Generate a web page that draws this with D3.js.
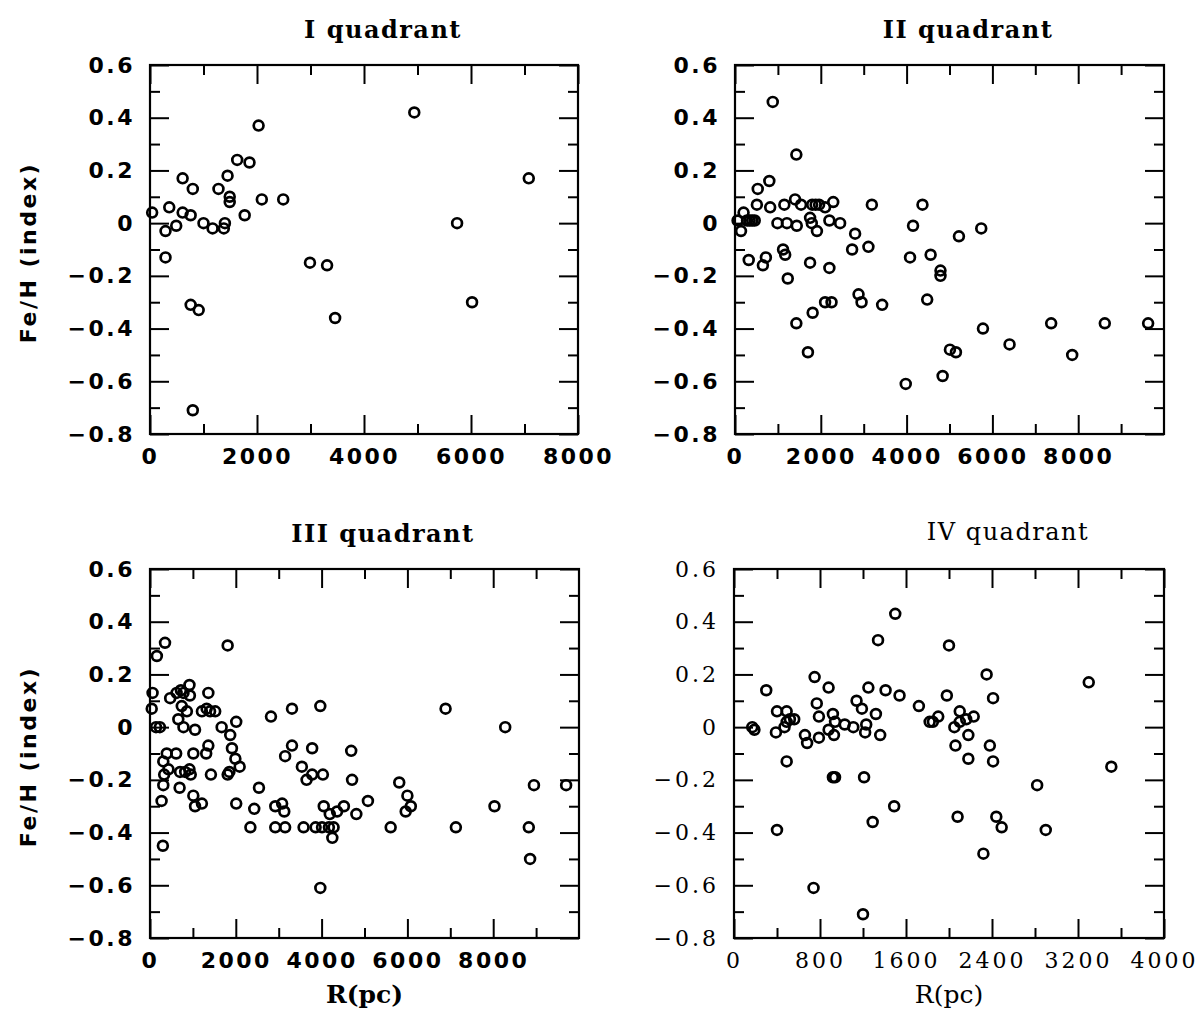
<!DOCTYPE html>
<html>
<head>
<meta charset="utf-8">
<script src="https://cdn.jsdelivr.net/npm/d3@7"></script>
<style>
    body { margin: 0; background: #fff; }
    svg { display: block; }
</style>
</head>
<body>
<div id="chart"></div>
<script>
// Fe/H against galactocentric distance, one panel per quadrant

// I quadrant
const q1R = [40, 290, 290, 360, 490, 610, 610, 760, 800, 760, 910, 800, 1000, 1170, 1280, 1400, 1380,
    1450, 1490, 1490, 1630, 1770, 1860, 2030, 2090, 2490, 2990, 3310, 3460, 4940, 5740, 6020, 7080];
const q1Fe = [0.04, -0.03, -0.13, 0.06, -0.01, 0.17, 0.04, 0.03, 0.13, -0.31, -0.33, -0.71, 0.00, -0.02, 0.13, 0.00, -0.02,
    0.18, 0.10, 0.08, 0.24, 0.03, 0.23, 0.37, 0.09, 0.09, -0.15, -0.16, -0.36, 0.42, 0.00, -0.30, 0.17];

// II quadrant
const q2R = [880, 1430, 530, 800, 200, 60, 140, 280, 340, 400, 460, 510, 820, 1150, 1400, 1540, 1800, 1880, 1960, 2100,
    2290, 990, 1210, 1440, 1750, 1790, 1910, 2200, 2450, 2800, 3190, 4370, 4150, 5220, 5740, 320, 650, 720, 1120, 1170,
    1230, 1750, 2200, 2730, 3110, 4080, 4560, 4790, 4790, 1430, 1700, 1810, 2100, 2250, 2880, 2950, 3430, 4480, 3980, 4840,
    5010, 5150, 5780, 6400, 7370, 8620, 7860, 9630];
const q2Fe = [0.46, 0.26, 0.13, 0.16, 0.04, 0.01, -0.03, 0.01, 0.01, 0.01, 0.01, 0.07, 0.06, 0.07, 0.09, 0.07, 0.07, 0.07, 0.07, 0.06,
    0.08, 0.00, 0.00, -0.01, 0.02, 0.00, -0.03, 0.01, 0.00, -0.04, 0.07, 0.07, -0.01, -0.05, -0.02, -0.14, -0.16, -0.13, -0.10, -0.12,
    -0.21, -0.15, -0.17, -0.10, -0.09, -0.13, -0.12, -0.18, -0.20, -0.38, -0.49, -0.34, -0.30, -0.30, -0.27, -0.30, -0.31, -0.29, -0.61, -0.58,
    -0.48, -0.49, -0.40, -0.46, -0.38, -0.38, -0.50, -0.38];

// III quadrant
const q3R = [350, 160, 1810, 60, 40, 140, 230, 470, 620, 720, 780, 920, 930, 740, 860, 660, 780, 1050,
    1210, 1320, 1400, 1520, 1360, 1670, 2010, 1870, 1910, 1990, 2090, 1850, 1810, 390, 610,
    310, 430, 330, 310, 700, 820, 920, 950, 1010, 1310, 1360, 1420, 690, 270, 1010, 1050, 1210, 300,
    2010, 2430, 2340, 2540, 2820, 3310, 3970, 3310, 3150, 2920, 3080, 3130, 2920, 3150, 3580, 3780,
    3540, 3780, 3650, 4030, 3860, 4010, 4170, 4280, 4250, 4050, 4190, 4360, 4520, 4810, 4690, 4710,
    5080, 5610, 5810, 6000, 5960, 6080, 3970, 6890, 7130, 8030, 8280, 8830, 8860, 8950, 9700];
const q3Fe = [0.32, 0.27, 0.31, 0.13, 0.07, 0.00, 0.00, 0.11, 0.13, 0.14, 0.13, 0.16, 0.12, 0.08, 0.06, 0.03, 0.00, -0.01,
    0.06, 0.07, 0.06, 0.06, 0.13, 0.00, 0.02, -0.03, -0.08, -0.12, -0.15, -0.17, -0.18, -0.10, -0.10,
    -0.13, -0.16, -0.18, -0.22, -0.17, -0.17, -0.16, -0.18, -0.10, -0.10, -0.07, -0.18, -0.23, -0.28, -0.26, -0.30, -0.29, -0.45,
    -0.29, -0.31, -0.38, -0.23, 0.04, 0.07, 0.08, -0.07, -0.11, -0.30, -0.29, -0.32, -0.38, -0.38, -0.38, -0.08,
    -0.15, -0.18, -0.20, -0.18, -0.38, -0.38, -0.38, -0.38, -0.42, -0.30, -0.33, -0.32, -0.30, -0.33, -0.09, -0.20,
    -0.28, -0.38, -0.21, -0.26, -0.32, -0.30, -0.61, 0.07, -0.38, -0.30, 0.00, -0.38, -0.50, -0.22, -0.22];

// IV quadrant
const q4R = [170, 190, 300, 400, 490, 390, 470, 490, 520, 560, 490, 400, 660, 680, 750, 770, 790, 790, 880,
    880, 920, 940, 930, 920, 940, 1030, 1110, 1140, 1190, 1220, 1230, 1320, 1360, 1210, 1250, 1340, 1410,
    1500, 1540, 1290, 1490, 740, 1200, 1720, 1820, 1850, 1900, 1980, 2000, 2050, 2060, 2100, 2100, 2160,
    2230, 2180, 2180, 2080, 2350, 2410, 2380, 2410, 2440, 2490, 2320, 2820, 2900, 3300, 3510];
const q4Fe = [0.00, -0.01, 0.14, 0.06, 0.06, -0.02, 0.00, 0.02, 0.03, 0.03, -0.13, -0.39, -0.03, -0.06, 0.19, 0.09, 0.04, -0.04, 0.15,
    -0.01, 0.05, 0.02, -0.03, -0.19, -0.19, 0.01, 0.00, 0.10, 0.07, -0.02, 0.01, 0.05, -0.03, -0.19, 0.15, 0.33, 0.14,
    0.43, 0.12, -0.36, -0.30, -0.61, -0.71, 0.08, 0.02, 0.02, 0.04, 0.12, 0.31, 0.00, -0.07, 0.06, 0.02, 0.03,
    0.04, -0.03, -0.12, -0.34, 0.20, 0.11, -0.07, -0.13, -0.34, -0.38, -0.48, -0.22, -0.39, 0.17, -0.15];

// axis ticks
const yMajor = [0.6, 0.4, 0.2, 0, -0.2, -0.4, -0.6, -0.8];
const yMinor = [0.5, 0.3, 0.1, -0.1, -0.3, -0.5, -0.7];
const xMajor8 = [0, 2000, 4000, 6000, 8000];
const xMinor8 = [1000, 3000, 5000, 7000];
const xMinor10 = [1000, 3000, 5000, 7000, 9000];
const xMajor4 = [0, 800, 1600, 2400, 3200, 4000];
const xMinor4 = [400, 1200, 2000, 2800, 3600];

const width = 1204, height = 1013;
const svg = d3.select("#chart").append("svg")
    .attr("width", width)
    .attr("height", height);

const panels = [
    { title: "I quadrant", R: q1R, Fe: q1Fe, xMax: 8000, major: xMajor8, minor: xMinor8,
      left: 150, right: 578, top: 65, bottom: 434, titleX: 383, titleY: 38, heavy: true, yTitle: true, xTitle: false },
    { title: "II quadrant", R: q2R, Fe: q2Fe, xMax: 10000, major: xMajor8, minor: xMinor10,
      left: 735, right: 1164, top: 65, bottom: 434, titleX: 968, titleY: 38, heavy: true, yTitle: false, xTitle: false },
    { title: "III quadrant", R: q3R, Fe: q3Fe, xMax: 10000, major: xMajor8, minor: xMinor10,
      left: 150, right: 579, top: 569, bottom: 938, titleX: 383, titleY: 542, heavy: true, yTitle: true, xTitle: true },
    { title: "IV quadrant", R: q4R, Fe: q4Fe, xMax: 4000, major: xMajor4, minor: xMinor4,
      left: 734, right: 1164, top: 569, bottom: 938, titleX: 1008, titleY: 540, heavy: false, yTitle: false, xTitle: true }
];

const fmtY = d => d === 0 ? "0" : d3.format(".1f")(d);

function styleAxis(sel, p) {
    sel.select(".domain").remove();
    sel.selectAll(".tick line").attr("stroke", "#000").attr("stroke-width", 2);
    sel.selectAll(".tick text")
        .attr("fill", "#000")
        .attr("font-family", p.heavy ? "DejaVu Sans" : "DejaVu Serif")
        .attr("font-weight", p.heavy ? "bold" : "normal")
        .attr("font-size", 22)
        .attr("letter-spacing", p.heavy ? 2.5 : 3);
}

function drawPanel(p) {
    const g = svg.append("g");
    const x = d3.scaleLinear().domain([0, p.xMax]).range([p.left, p.right]);
    const y = d3.scaleLinear().domain([-0.8, 0.6]).range([p.bottom, p.top]);

    // bottom: labelled major ticks + minor ticks, all pointing inward
    g.append("g").attr("transform", `translate(0,${p.bottom})`)
        .call(d3.axisBottom(x).tickValues(p.major).tickSize(-19).tickSizeOuter(0).tickPadding(14).tickFormat(d3.format("d")))
        .call(s => styleAxis(s, p));
    g.append("g").attr("transform", `translate(0,${p.bottom})`)
        .call(d3.axisBottom(x).tickValues(p.minor).tickSize(-10).tickSizeOuter(0).tickFormat(""))
        .call(s => styleAxis(s, p));
    // top
    g.append("g").attr("transform", `translate(0,${p.top})`)
        .call(d3.axisTop(x).tickValues(p.major).tickSize(-19).tickSizeOuter(0).tickFormat(""))
        .call(s => styleAxis(s, p));
    g.append("g").attr("transform", `translate(0,${p.top})`)
        .call(d3.axisTop(x).tickValues(p.minor).tickSize(-10).tickSizeOuter(0).tickFormat(""))
        .call(s => styleAxis(s, p));
    // left
    g.append("g").attr("transform", `translate(${p.left},0)`)
        .call(d3.axisLeft(y).tickValues(yMajor).tickSize(-19).tickSizeOuter(0).tickPadding(15).tickFormat(fmtY))
        .call(s => styleAxis(s, p));
    g.append("g").attr("transform", `translate(${p.left},0)`)
        .call(d3.axisLeft(y).tickValues(yMinor).tickSize(-10).tickSizeOuter(0).tickFormat(""))
        .call(s => styleAxis(s, p));
    // right
    g.append("g").attr("transform", `translate(${p.right},0)`)
        .call(d3.axisRight(y).tickValues(yMajor).tickSize(-19).tickSizeOuter(0).tickFormat(""))
        .call(s => styleAxis(s, p));
    g.append("g").attr("transform", `translate(${p.right},0)`)
        .call(d3.axisRight(y).tickValues(yMinor).tickSize(-10).tickSizeOuter(0).tickFormat(""))
        .call(s => styleAxis(s, p));

    // frame
    g.append("rect")
        .attr("x", p.left)
        .attr("y", p.top)
        .attr("width", p.right - p.left)
        .attr("height", p.bottom - p.top)
        .attr("fill", "none")
        .attr("stroke", "#000")
        .attr("stroke-width", 2.2);

    // points
    const pts = p.R.map((r, i) => ({ r, fe: p.Fe[i] }));
    g.selectAll(".pt")
        .data(pts)
        .enter()
        .append("circle")
        .attr("class", "pt")
        .attr("cx", d => x(d.r))
        .attr("cy", d => y(d.fe))
        .attr("r", 4.9)
        .attr("fill", "none")
        .attr("stroke", "#000")
        .attr("stroke-width", 2.7);

    // title
    g.append("text")
        .attr("x", p.titleX)
        .attr("y", p.titleY)
        .attr("text-anchor", "middle")
        .attr("font-family", "DejaVu Serif")
        .attr("font-weight", p.heavy ? "bold" : "normal")
        .attr("font-size", 24)
        .attr("letter-spacing", 1.5)
        .text(p.title);

    if (p.yTitle) {
        const cy = (p.top + p.bottom) / 2 + 3;
        g.append("text")
            .attr("transform", `translate(28,${cy}) rotate(-90)`)
            .attr("text-anchor", "middle")
            .attr("dominant-baseline", "central")
            .attr("font-family", "DejaVu Sans")
            .attr("font-weight", "bold")
            .attr("font-size", 22)
            .attr("letter-spacing", 2.5)
            .text("Fe/H (index)");
    }
    if (p.xTitle) {
        g.append("text")
            .attr("x", (p.left + p.right) / 2)
            .attr("y", 1003)
            .attr("text-anchor", "middle")
            .attr("font-family", "DejaVu Serif")
            .attr("font-weight", p.heavy ? "bold" : "normal")
            .attr("font-size", 25)
            .text("R(pc)");
    }
}

panels.forEach(drawPanel);
</script>
</body>
</html>
